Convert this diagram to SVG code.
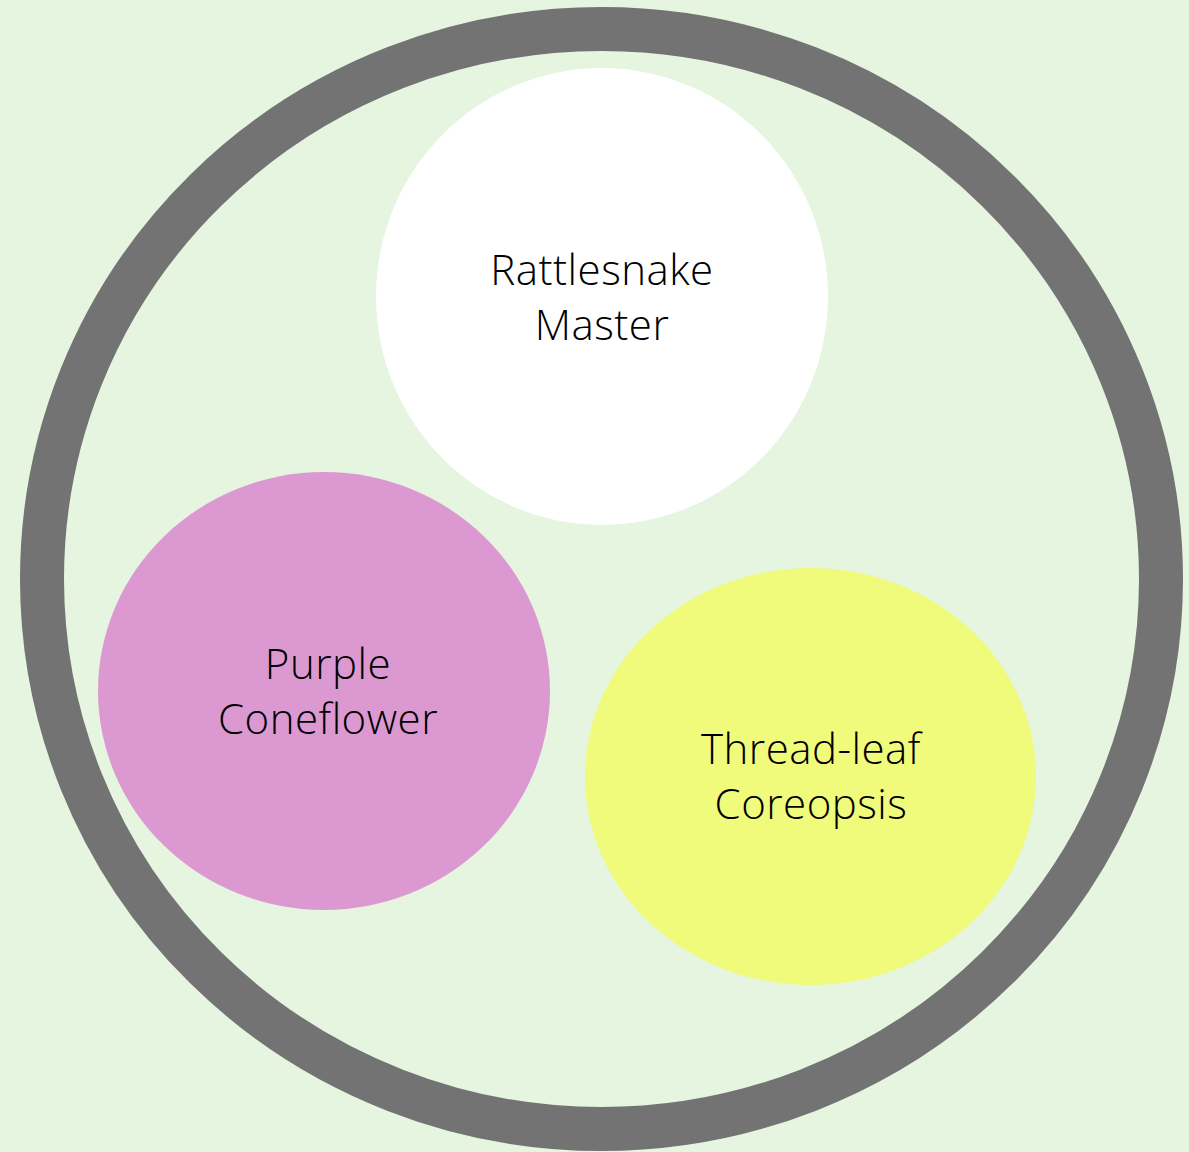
<svg xmlns="http://www.w3.org/2000/svg" width="1189" height="1152" viewBox="0 0 1189 1152">
<style>
.lbl{font-family:"Open Sans","Noto Sans",sans-serif;font-weight:300;font-size:42px;letter-spacing:0.5px;fill:#000000;text-anchor:middle}
</style>
<rect width="1189" height="1152" fill="#E5F5E0"/>
<g id="bed">
<ellipse cx="601.5" cy="579" rx="559.5" ry="550" fill="none" stroke="#737373" stroke-width="44"/>
</g>
<g id="rattlesnake-master">
<ellipse cx="602" cy="296.5" rx="226" ry="228.5" fill="#FFFFFF"/>
<text class="lbl" x="602" y="285">Rattlesnake</text>
<text class="lbl" x="602" y="340">Master</text>
</g>
<g id="purple-coneflower">
<ellipse cx="324" cy="691" rx="226" ry="219" fill="#DC99D1"/>
<text class="lbl" x="328" y="679">Purple</text>
<text class="lbl" x="328" y="734">Coneflower</text>
</g>
<g id="thread-leaf-coreopsis">
<ellipse cx="810.5" cy="776.5" rx="225.5" ry="208.5" fill="#F0FA7B"/>
<text class="lbl" x="811" y="764">Thread-leaf</text>
<text class="lbl" x="811" y="819">Coreopsis</text>
</g>
<g id="connectors"/>
</svg>
